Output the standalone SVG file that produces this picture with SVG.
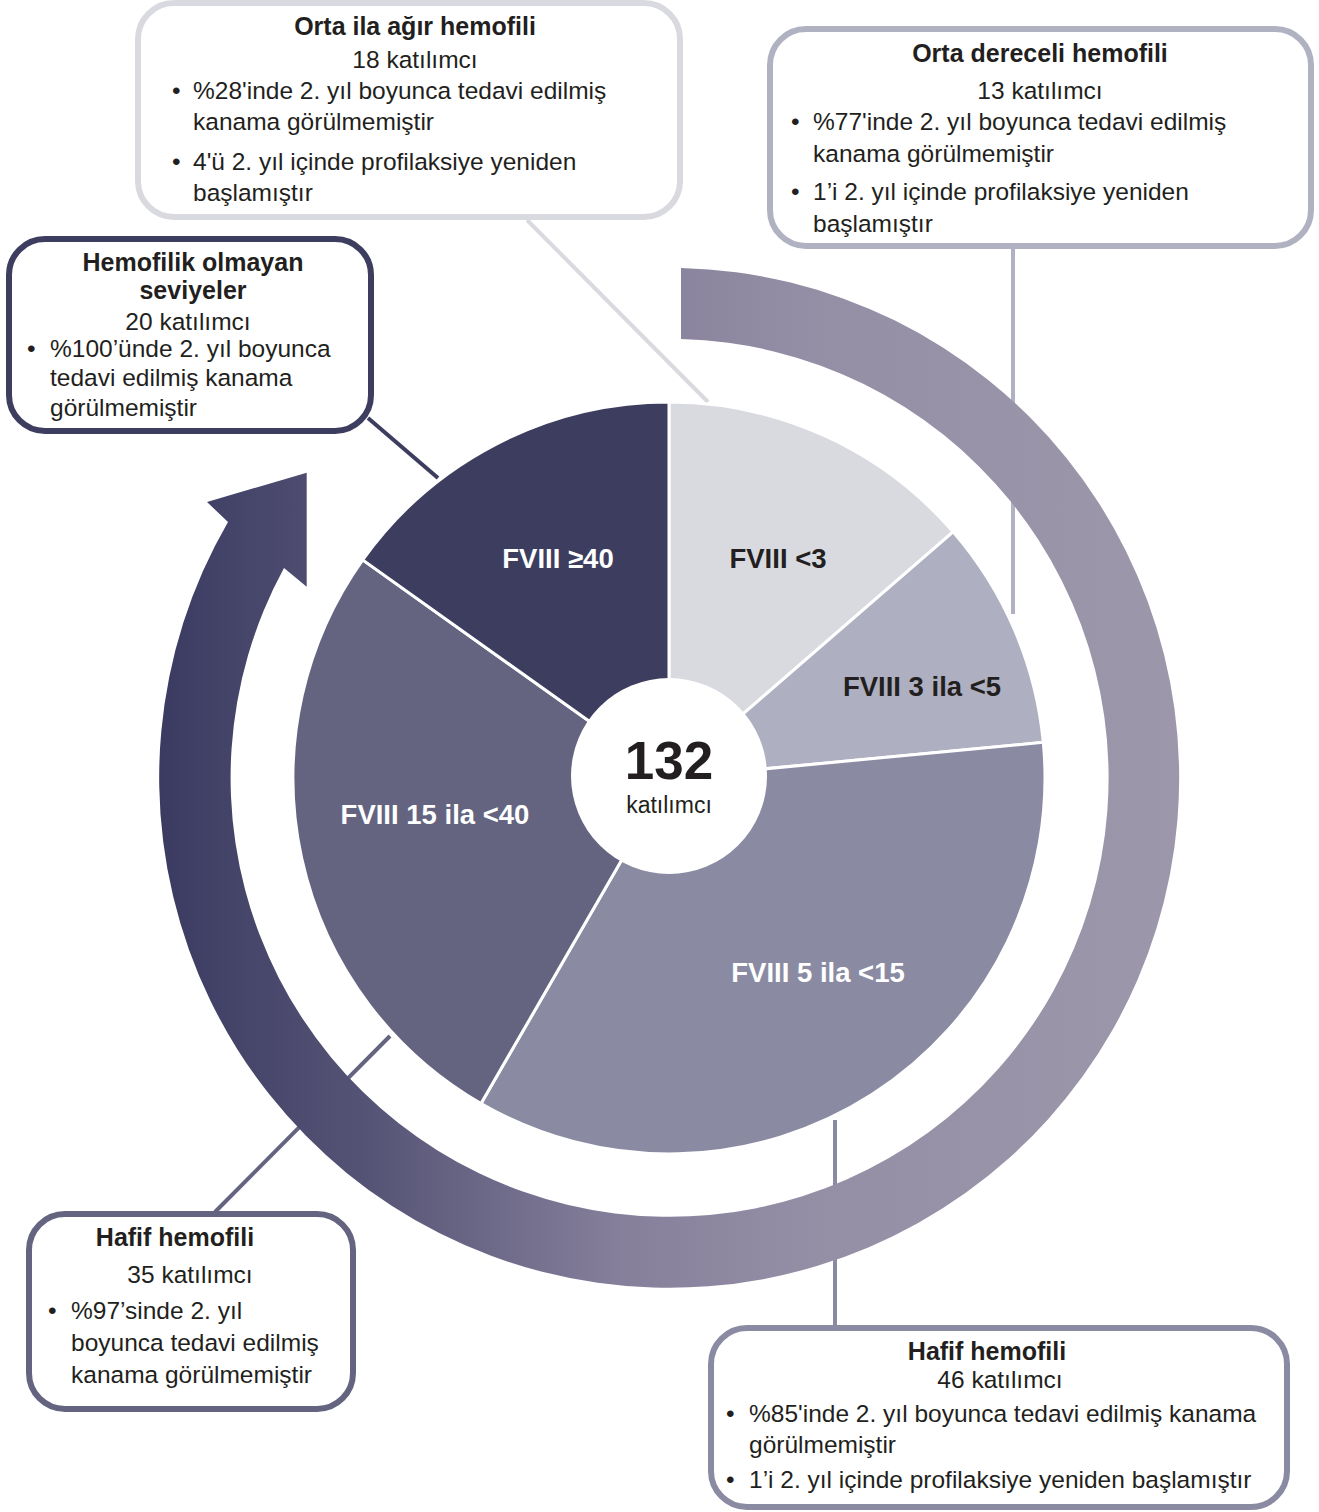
<svg xmlns="http://www.w3.org/2000/svg" width="1319" height="1512" viewBox="0 0 1319 1512">
<style>
.box{fill:#fff;stroke-width:6}
.t{font-family:"Liberation Sans",Arial,sans-serif;font-size:24.5px;fill:#231f20}
.b{font-weight:bold;font-size:25px}
.c{text-anchor:middle}
.sl{font-family:"Liberation Sans",Arial,sans-serif;font-size:27.5px;font-weight:bold;text-anchor:middle}
.w{fill:#fff}
.k{fill:#231f20}
.slice{stroke:#fff;stroke-width:3}
.conn{fill:none;stroke-width:4}
</style>
<defs>
<linearGradient id="ringGrad" gradientUnits="userSpaceOnUse" x1="160" y1="0" x2="1178" y2="0">
<stop offset="0" stop-color="#3b3b62"/>
<stop offset="0.2" stop-color="#555375"/>
<stop offset="0.45" stop-color="#857f9b"/>
<stop offset="0.65" stop-color="#958fa6"/>
<stop offset="1" stop-color="#9d97ab"/>
</linearGradient>
</defs>
<rect width="1319" height="1512" fill="#fff"/>
<g id="connectors">
<line class="conn" x1="527" y1="220" x2="708" y2="402" stroke="#d9dae0"/>
<line class="conn" x1="1013" y1="248" x2="1013" y2="614" stroke="#b0b2c2"/>
<line class="conn" x1="368" y1="418" x2="438" y2="478" stroke="#3d3d5f"/>
<line class="conn" x1="215" y1="1212" x2="390" y2="1036" stroke="#646481"/>
<line class="conn" x1="835" y1="1120" x2="835" y2="1327" stroke="#8a8ba3"/>
</g>
<g id="ring">
<path d="M681 268 A510 510 0 1 1 228 522 L207 502 L306.7 472.7 L306.7 586.7 L284 568 A439 439 0 1 0 681 339 Z" fill="url(#ringGrad)"/>
</g>
<g id="pie">
<g id="slice-lt3"><path class="slice" d="M669 778 L669 402 A376 376 0 0 1 953.1 531.8 Z" fill="#d9dae0"/><text class="sl k" x="778" y="568">FVIII &lt;3</text></g>
<g id="slice-3-5"><path class="slice" d="M669 778 L953.1 531.8 A376 376 0 0 1 1043.3 742.3 Z" fill="#aeb0c1"/><text class="sl k" x="922" y="696">FVIII 3 ila &lt;5</text></g>
<g id="slice-5-15"><path class="slice" d="M669 778 L1043.3 742.3 A376 376 0 0 1 481 1103.6 Z" fill="#8a8ba3"/><text class="sl w" x="818" y="982">FVIII 5 ila &lt;15</text></g>
<g id="slice-15-40"><path class="slice" d="M669 778 L481 1103.6 A376 376 0 0 1 362.7 559.9 Z" fill="#646481"/><text class="sl w" x="435" y="824">FVIII 15 ila &lt;40</text></g>
<g id="slice-ge40"><path class="slice" d="M669 778 L362.7 559.9 A376 376 0 0 1 669 402 Z" fill="#3d3d5f"/><text class="sl w" x="558" y="568">FVIII ≥40</text></g>
<g id="center"><circle cx="669" cy="776" r="98" fill="#fff"/>
<text x="669" y="779" font-family="Liberation Sans,Arial,sans-serif" font-size="53" font-weight="bold" text-anchor="middle" fill="#231f20">132</text>
<text x="669" y="813" font-family="Liberation Sans,Arial,sans-serif" font-size="23" text-anchor="middle" fill="#231f20">katılımcı</text></g>
</g>
<g id="box-orta-agir">
<rect class="box" x="138" y="3" width="542" height="214" rx="36" stroke="#d9dae0"/>
<text class="t b c" x="415" y="35">Orta ila ağır hemofili</text>
<text class="t c" x="415" y="68">18 katılımcı</text>
<text class="t" x="172" y="99">•</text>
<text class="t" x="193" y="99">%28'inde 2. yıl boyunca tedavi edilmiş</text>
<text class="t" x="193" y="130">kanama görülmemiştir</text>
<text class="t" x="172" y="170">•</text>
<text class="t" x="193" y="170">4'ü 2. yıl içinde profilaksiye yeniden</text>
<text class="t" x="193" y="201">başlamıştır</text>
</g>
<g id="box-orta-dereceli">
<rect class="box" x="770" y="29" width="541" height="217" rx="36" stroke="#b0b2c2"/>
<text class="t b c" x="1040" y="62">Orta dereceli hemofili</text>
<text class="t c" x="1040" y="99">13 katılımcı</text>
<text class="t" x="791" y="130">•</text>
<text class="t" x="813" y="130">%77'inde 2. yıl boyunca tedavi edilmiş</text>
<text class="t" x="813" y="162">kanama görülmemiştir</text>
<text class="t" x="791" y="200">•</text>
<text class="t" x="813" y="200">1’i 2. yıl içinde profilaksiye yeniden</text>
<text class="t" x="813" y="232">başlamıştır</text>
</g>
<g id="box-hemofilik-olmayan">
<rect class="box" x="9" y="239" width="362" height="192" rx="36" stroke="#3d3d5f"/>
<text class="t b c" x="193" y="271">Hemofilik olmayan</text>
<text class="t b c" x="193" y="299">seviyeler</text>
<text class="t c" x="188" y="330">20 katılımcı</text>
<text class="t" x="27" y="357">•</text>
<text class="t" x="50" y="357">%100’ünde 2. yıl boyunca</text>
<text class="t" x="50" y="386">tedavi edilmiş kanama</text>
<text class="t" x="50" y="416">görülmemiştir</text>
</g>
<g id="box-hafif-sol">
<rect class="box" x="29" y="1214" width="324" height="195" rx="36" stroke="#646481"/>
<text class="t b c" x="175" y="1246">Hafif hemofili</text>
<text class="t c" x="190" y="1283">35 katılımcı</text>
<text class="t" x="48" y="1319">•</text>
<text class="t" x="71" y="1319">%97’sinde 2. yıl</text>
<text class="t" x="71" y="1351">boyunca tedavi edilmiş</text>
<text class="t" x="71" y="1383">kanama görülmemiştir</text>
</g>
<g id="box-hafif-sag">
<rect class="box" x="711" y="1328" width="576" height="179" rx="36" stroke="#8a8ba3"/>
<text class="t b c" x="987" y="1360">Hafif hemofili</text>
<text class="t c" x="1000" y="1388">46 katılımcı</text>
<text class="t" x="726" y="1422">•</text>
<text class="t" x="749" y="1422">%85'inde 2. yıl boyunca tedavi edilmiş kanama</text>
<text class="t" x="749" y="1453">görülmemiştir</text>
<text class="t" x="726" y="1488">•</text>
<text class="t" x="749" y="1488">1’i 2. yıl içinde profilaksiye yeniden başlamıştır</text>
</g>
</svg>
